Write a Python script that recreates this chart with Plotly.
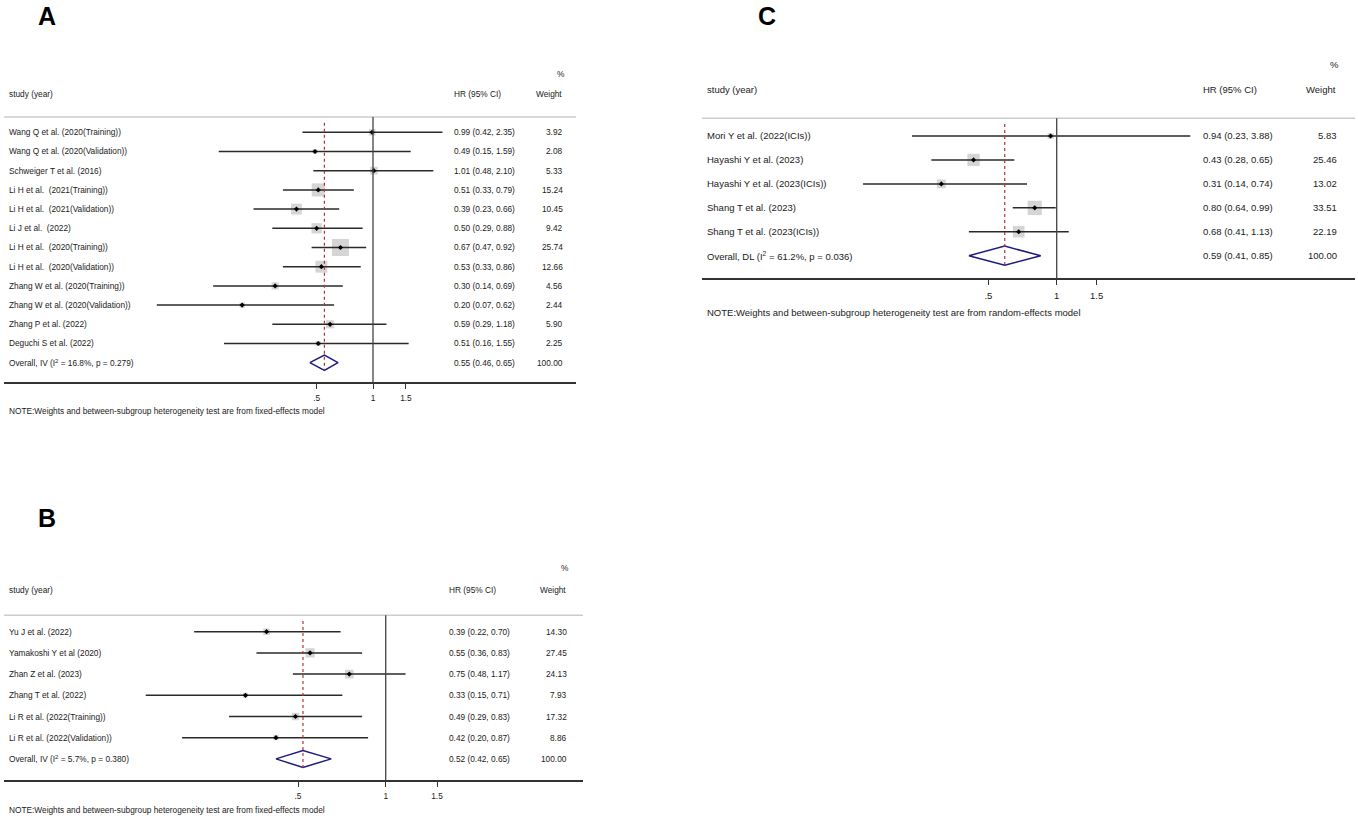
import numpy as np
import plotly.graph_objects as go

# Panel A
studies_a = ["Wang Q et al. (2020(Training))", "Wang Q et al. (2020(Validation))",
             "Schweiger T et al. (2016)", "Li H et al.\u00a0 (2021(Training))",
             "Li H et al.\u00a0 (2021(Validation))", "Li J et al.\u00a0 (2022)",
             "Li H et al.\u00a0 (2020(Training))", "Li H et al.\u00a0 (2020(Validation))",
             "Zhang W et al. (2020(Training))", "Zhang W et al. (2020(Validation))",
             "Zhang P et al. (2022)", "Deguchi S et al. (2022)"]
hr_a = [0.99, 0.49, 1.01, 0.51, 0.39, 0.50, 0.67, 0.53, 0.30, 0.20, 0.59, 0.51]
lo_a = [0.42, 0.15, 0.48, 0.33, 0.23, 0.29, 0.47, 0.33, 0.14, 0.07, 0.29, 0.16]
hi_a = [2.35, 1.59, 2.10, 0.79, 0.66, 0.88, 0.92, 0.86, 0.69, 0.62, 1.18, 1.55]
wt_a = [3.92, 2.08, 5.33, 15.24, 10.45, 9.42, 25.74, 12.66, 4.56, 2.44, 5.90, 2.25]
overall_a = [0.55, 0.46, 0.65]
overall_label_a = "Overall, IV (I<sup>2</sup> = 16.8%, p = 0.279)"

# Panel B
studies_b = ["Yu J et al. (2022)", "Yamakoshi Y et al (2020)", "Zhan Z et al. (2023)",
             "Zhang T et al. (2022)", "Li R et al. (2022(Training))",
             "Li R et al. (2022(Validation))"]
hr_b = [0.39, 0.55, 0.75, 0.33, 0.49, 0.42]
lo_b = [0.22, 0.36, 0.48, 0.15, 0.29, 0.20]
hi_b = [0.70, 0.83, 1.17, 0.71, 0.83, 0.87]
wt_b = [14.30, 27.45, 24.13, 7.93, 17.32, 8.86]
overall_b = [0.52, 0.42, 0.65]
overall_label_b = "Overall, IV (I<sup>2</sup> = 5.7%, p = 0.380)"

# Panel C
studies_c = ["Mori Y et al. (2022(ICIs))", "Hayashi Y et al. (2023)",
             "Hayashi Y et al. (2023(ICIs))", "Shang T et al. (2023)",
             "Shang T et al. (2023(ICIs))"]
hr_c = [0.94, 0.43, 0.31, 0.80, 0.68]
lo_c = [0.23, 0.28, 0.14, 0.64, 0.41]
hi_c = [3.88, 0.65, 0.74, 0.99, 1.13]
wt_c = [5.83, 25.46, 13.02, 33.51, 22.19]
overall_c = [0.59, 0.41, 0.85]
overall_label_c = "Overall, DL (I<sup>2</sup> = 61.2%, p = 0.036)"

tick_vals = [0.5, 1, 1.5]
tick_text = [".5", "1", "1.5"]
note_fixed = "NOTE:Weights and between-subgroup heterogeneity test are from fixed-effects model"
note_random = "NOTE:Weights and between-subgroup heterogeneity test are from random-effects model"

W, H = 1358, 819
FONT = "Arial, Liberation Sans, sans-serif"
TXT = "#1a1a1a"

fig = go.Figure()
annotations = []
shapes = []


def add_panel(n, letter, studies, hr, lo, hi, wt, ov, ov_label, note, g):
    xa = "x" if n == 1 else f"x{n}"
    ya = "y" if n == 1 else f"y{n}"
    k = len(studies)
    rows = list(range(k))

    # weight boxes
    fig.add_trace(go.Scatter(
        x=hr, y=rows, mode="markers", xaxis=xa, yaxis=ya, hoverinfo="skip",
        marker=dict(symbol="square", size=np.sqrt(wt) * g["box"], color="#c3c3c3",
                    line=dict(width=0))))
    # confidence intervals
    xs, ys = [], []
    for i in rows:
        xs += [lo[i], hi[i], None]
        ys += [i, i, None]
    fig.add_trace(go.Scatter(x=xs, y=ys, mode="lines", xaxis=xa, yaxis=ya, hoverinfo="skip",
                             line=dict(color="#2a2a2a", width=1.5)))
    # point estimates
    fig.add_trace(go.Scatter(x=hr, y=rows, mode="markers", xaxis=xa, yaxis=ya, hoverinfo="skip",
                             marker=dict(symbol="diamond", size=4, color="black")))
    # overall diamond
    est, olo, ohi = ov
    fig.add_trace(go.Scatter(x=[olo, est, ohi, est, olo], y=[k, k - 0.4, k, k + 0.4, k],
                             mode="lines", xaxis=xa, yaxis=ya, hoverinfo="skip",
                             line=dict(color="#1c1c7c", width=1.5)))

    dec = g["dec"]
    fig.update_layout(**{
        ("xaxis" if n == 1 else f"xaxis{n}"): dict(
            type="log", domain=[g["x0"] / W, g["x1"] / W],
            range=[(g["x0"] - g["one"]) / dec, (g["x1"] - g["one"]) / dec],
            anchor=ya, showgrid=False, zeroline=False, showline=True,
            linecolor="#333333", linewidth=1.6, ticks="outside", ticklen=5,
            tickcolor="#333333", tickwidth=1, tickvals=tick_vals, ticktext=tick_text,
            ticklabelstandoff=2, tickfont=dict(size=g["fs"], color=TXT, family=FONT),
            fixedrange=True),
        ("yaxis" if n == 1 else f"yaxis{n}"): dict(
            domain=[1 - g["bot"] / H, 1 - g["top"] / H],
            range=[(g["bot"] - g["row0"]) / g["step"], (g["top"] - g["row0"]) / g["step"]],
            anchor=xa, visible=False, fixedrange=True),
    })

    # top grey rule, null line, overall dashed line
    shapes.append(dict(type="line", xref=f"{xa} domain", yref=f"{ya} domain",
                       x0=0, x1=1, y0=1, y1=1, line=dict(color="#cccccc", width=1.5)))
    shapes.append(dict(type="line", xref=xa, yref=f"{ya} domain",
                       x0=1, x1=1, y0=0, y1=1, line=dict(color="#444444", width=1.3)))
    shapes.append(dict(type="line", xref=xa, yref=ya, x0=est, x1=est, y0=-0.5, y1=k + 0.42,
                       line=dict(color="#b5303e", width=1.2, dash="3px,3px")))

    f = dict(family=FONT, size=g["fs"], color=TXT)

    def txt(x, y, s, anchor, yref="paper"):
        annotations.append(dict(x=x / W, y=(1 - y / H) if yref == "paper" else y,
                                xref="paper", yref=yref, text=s, showarrow=False,
                                xanchor=anchor, yanchor="middle", font=f))

    txt(g["lab"], g["head"], "study (year)", "left")
    txt(g["hr"], g["head"], "HR (95% CI)", "left")
    txt(g["wt"] - 1, g["head"], "Weight", "right")
    txt(g["wt"] + 2, g["pct"], "%", "right")
    for i in rows:
        txt(g["lab"], i, studies[i], "left", ya)
        txt(g["hr"], i, f"{hr[i]:.2f} ({lo[i]:.2f}, {hi[i]:.2f})", "left", ya)
        txt(g["wt"], i, f"{wt[i]:.2f}", "right", ya)
    txt(g["lab"], k, ov_label, "left", ya)
    txt(g["hr"], k, f"{est:.2f} ({olo:.2f}, {ohi:.2f})", "left", ya)
    txt(g["wt"], k, f"{100:.2f}", "right", ya)
    txt(g["lab"], g["note"], note, "left")

    annotations.append(dict(x=g["lx"] / W, y=1 - g["ly"] / H, xref="paper", yref="paper",
                            text=f"<b>{letter}</b>", showarrow=False, xanchor="center",
                            yanchor="middle", font=dict(family=FONT, size=25, color="black")))


geo_a = dict(x0=4, x1=576, one=373, dec=187.2, top=117, bot=382, row0=132.3, step=19.2,
             lab=7, hr=451.7, wt=565, head=94, pct=74, note=411, fs=8.3, box=3.35,
             lx=47, ly=16)
geo_b = dict(x0=4, x1=583, one=385.7, dec=291.3, top=615.3, bot=780, row0=631.7, step=21.2,
             lab=7, hr=446.7, wt=569.3, head=590, pct=568, note=810, fs=8.3, box=1.75,
             lx=47, ly=518)
geo_c = dict(x0=702, x1=1355, one=1056.7, dec=226.8, top=118.3, bot=278.3, row0=136,
             step=23.94, lab=705.3, hr=1201.3, wt=1339, head=89.3, pct=65, note=312.7,
             fs=9.5, box=2.45, lx=766.7, ly=16)

add_panel(1, "A", studies_a, hr_a, lo_a, hi_a, wt_a, overall_a, overall_label_a, note_fixed, geo_a)
add_panel(2, "B", studies_b, hr_b, lo_b, hi_b, wt_b, overall_b, overall_label_b, note_fixed, geo_b)
add_panel(3, "C", studies_c, hr_c, lo_c, hi_c, wt_c, overall_c, overall_label_c, note_random, geo_c)

fig.update_layout(width=W, height=H, margin=dict(l=0, r=0, t=0, b=0), autosize=False,
                  showlegend=False, paper_bgcolor="white", plot_bgcolor="white",
                  font=dict(family=FONT, color=TXT), annotations=annotations, shapes=shapes)

fig.write_html("out.html", config={"displayModeBar": False},
               post_script="document.body.style.margin='0';document.body.style.overflow='hidden';")
